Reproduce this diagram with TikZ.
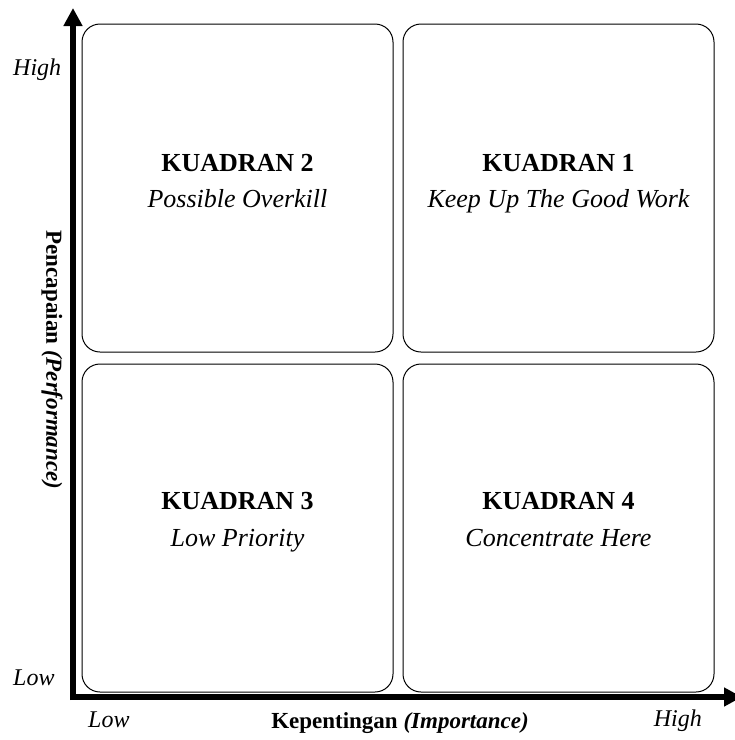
\documentclass[tikz,border=0pt]{standalone}
\usepackage{fontspec}
\setmainfont{Liberation Serif}
\usetikzlibrary{positioning,arrows.meta}
\tikzstyle{quad} = [rectangle, draw, rounded corners=18pt, line width=1pt,
    minimum width=311pt, minimum height=328pt, inner sep=0pt]
\tikzstyle{qtitle} = [font=\fontsize{26}{30}\selectfont\bfseries, anchor=base]
\tikzstyle{subtitle} = [font=\fontsize{26}{30}\selectfont\itshape, anchor=base]
\tikzstyle{scalelabel} = [font=\fontsize{24}{28}\selectfont\itshape, inner sep=0pt]
\tikzstyle{axislabel} = [font=\fontsize{23}{27}\selectfont\bfseries, inner sep=0pt]
\tikzstyle{axis} = [draw, line width=6pt, -{Triangle[length=18pt,width=18pt]}]

\begin{document}
\begin{tikzpicture}[x=1pt, y=-1pt]
	\useasboundingbox (0,0) rectangle (735,740);

		% kuadran
		\node [quad] (q2) at (237.5,188) {};
		\node [quad, right=9pt of q2] (q1) {};
		\node [quad, below=11pt of q2] (q3) {};
		\node [quad, right=9pt of q3] (q4) {};

		\node [qtitle] (t1) at ([yshift=17pt]q1.center) {KUADRAN 1};
		\node [subtitle] (s1) at ([yshift=-19pt]q1.center) {Keep Up The Good Work};
		\node [qtitle] (t2) at ([yshift=17pt]q2.center) {KUADRAN 2};
		\node [subtitle] (s2) at ([yshift=-19pt]q2.center) {Possible Overkill};
		\node [qtitle] (t3) at ([yshift=19pt]q3.center) {KUADRAN 3};
		\node [subtitle] (s3) at ([yshift=-18pt]q3.center) {Low Priority};
		\node [qtitle] (t4) at ([yshift=19pt]q4.center) {KUADRAN 4};
		\node [subtitle] (s4) at ([yshift=-18pt]q4.center) {Concentrate Here};

		% sumbu
		\coordinate (ybase) at (73,700);
		\coordinate (ytip) at (73,8);
		\coordinate (xbase) at (70,697);
		\coordinate (xtip) at (742,697);
		\path [axis] (ybase) -- (ytip);
		\path [axis] (xbase) -- (xtip);

		\node [scalelabel, anchor=base west] (yhigh) at (13,75) {High};
		\node [scalelabel, anchor=base west] (ylow) at (13,685) {Low};
		\node [scalelabel, anchor=base west] (xlow) at (88,727) {Low};
		\node [scalelabel, anchor=base east] (xhigh) at (702,726) {High};

		\node [axislabel, rotate=-90] (ylabel) at (52,360) {Pencapaian \textit{(Performance)}};
		\node [axislabel, anchor=base] (xlabel) at (400,728) {Kepentingan \textit{(Importance)}};
	\end{tikzpicture}
\end{document}
